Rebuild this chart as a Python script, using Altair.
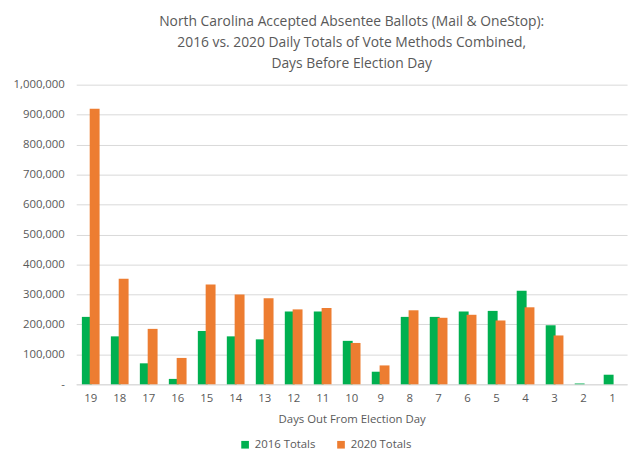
import pandas as pd
import altair as alt

days = [19, 18, 17, 16, 15, 14, 13, 12, 11, 10, 9, 8, 7, 6, 5, 4, 3, 2, 1]
totals_2016 = [225000, 160000, 70000, 18000, 178000, 160000, 150000, 243000, 243000, 145000,
               42000, 225000, 225000, 243000, 245000, 312000, 197000, 3000, 32000]
totals_2020 = [920000, 352000, 185000, 88000, 333000, 300000, 287000, 250000, 255000, 138000,
               63000, 247000, 222000, 232000, 213000, 257000, 163000, 0, 0]

df = pd.concat([
    pd.DataFrame({"day": days, "value": totals_2016, "series": "2016 Totals"}),
    pd.DataFrame({"day": days, "value": totals_2020, "series": "2020 Totals"}),
])

font = "Open Sans"
chart = (
    alt.Chart(df)
    .mark_bar(size=10)
    .encode(
        x=alt.X(
            "day:O",
            sort=days,
            scale=alt.Scale(paddingInner=0.0, paddingOuter=0.0),
            axis=alt.Axis(title="Days Out From Election Day", labelAngle=0, ticks=False,
                          domainColor="#d9d9d9", titlePadding=10, titleFontWeight="normal",
                          titleColor="#595959", labelColor="#595959", labelPadding=8),
        ),
        xOffset=alt.XOffset("series:N", scale=alt.Scale(paddingInner=0.1, paddingOuter=0.9)),
        y=alt.Y(
            "value:Q",
            scale=alt.Scale(domain=[0, 1000000]),
            axis=alt.Axis(title=None, tickCount=10, ticks=False, domain=False,
                          gridColor="#d9d9d9", labelColor="#595959", labelPadding=12,
                          labelExpr="datum.value == 0 ? '-' : format(datum.value, ',')"),
        ),
        color=alt.Color(
            "series:N",
            scale=alt.Scale(domain=["2016 Totals", "2020 Totals"], range=["#00B050", "#ED7D31"]),
            legend=alt.Legend(title=None, orient="none", direction="horizontal",
                              legendX=165, legendY=358, symbolType="square", symbolSize=60,
                              labelColor="#595959", columnPadding=20),
        ),
    )
    .properties(
        width=557,
        height=303,
        title=alt.Title(
            ["North Carolina Accepted Absentee Ballots (Mail & OneStop):",
             "2016 vs. 2020 Daily Totals of Vote Methods Combined,",
             "Days Before Election Day"],
            fontSize=14, fontWeight="normal", color="#595959", font=font, lineHeight=21,
            offset=4, dy=-4,
        ),
    )
    .configure_axis(labelFont=font, titleFont=font, labelFontSize=11.5, titleFontSize=11.5)
    .configure_legend(labelFont=font, labelFontSize=11.5)
    .configure_view(stroke=None)
)

chart.save("out.html", embed_options={"renderer": "svg", "actions": False})
